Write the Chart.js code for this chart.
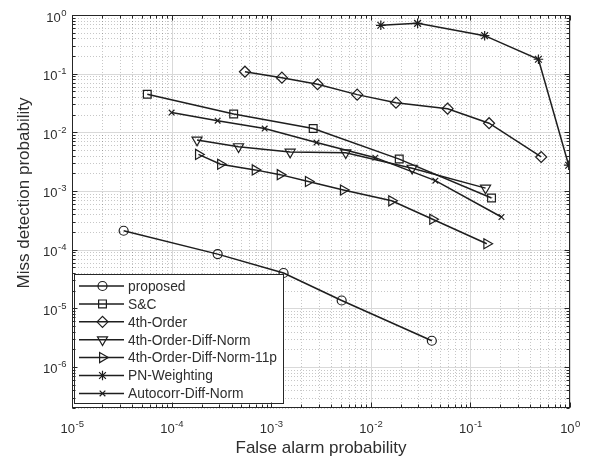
<!DOCTYPE html>
<html>
<head>
<meta charset="utf-8">
<script src="https://cdn.jsdelivr.net/npm/chart.js@4.4.1/dist/chart.umd.min.js"></script>
<style>
  html, body { margin: 0; padding: 0; background: #fff; }
  canvas { display: block; }
</style>
</head>
<body>
<canvas id="roc" width="593" height="461"></canvas>
<script>
// datos (escala log-log)
const proposedX = [3.3e-5, 2.9e-4, 1.33e-3, 5.1e-3, 0.041];
const proposedY = [2.1e-4, 8.4e-5, 4.0e-5, 1.36e-5, 2.8e-6];
const scX = [5.7e-5, 4.2e-4, 2.64e-3, 0.0193, 0.163];
const scY = [0.0446, 0.0206, 0.0116, 3.5e-3, 7.6e-4];
const fourthX = [5.45e-4, 1.28e-3, 2.92e-3, 7.3e-3, 0.0179, 0.059, 0.154, 0.514];
const fourthY = [0.108, 0.0855, 0.066, 0.0439, 0.032, 0.0253, 0.0143, 3.8e-3];
const diffNormX = [1.8e-4, 4.7e-4, 1.55e-3, 5.6e-3, 0.026, 0.142];
const diffNormY = [7.4e-3, 5.7e-3, 4.6e-3, 4.5e-3, 2.45e-3, 1.12e-3];
const diffNorm11X = [1.86e-4, 3.1e-4, 6.9e-4, 1.23e-3, 2.36e-3, 5.3e-3, 0.0162, 0.0418, 0.146];
const diffNorm11Y = [4.2e-3, 2.86e-3, 2.29e-3, 1.9e-3, 1.45e-3, 1.04e-3, 6.8e-4, 3.3e-4, 1.26e-4];
const pnX = [0.0126, 0.0295, 0.139, 0.482, 0.97];
const pnY = [0.668, 0.72, 0.444, 0.176, 2.75e-3];
const autoX = [1e-4, 2.9e-4, 8.6e-4, 2.85e-3, 0.0111, 0.0445, 0.205];
const autoY = [0.0217, 0.0158, 0.0116, 6.7e-3, 3.7e-3, 1.5e-3, 3.6e-4];

const seriesNames = ['proposed', 'S&C', '4th-Order', '4th-Order-Diff-Norm',
  '4th-Order-Diff-Norm-11p', 'PN-Weighting', 'Autocorr-Diff-Norm'];

// ticks
const xTicks = [1e-5, 1e-4, 1e-3, 1e-2, 1e-1, 1];
const xTickExp = ['-5', '-4', '-3', '-2', '-1', '0'];
const yTicks = [1e-6, 1e-5, 1e-4, 1e-3, 1e-2, 1e-1, 1];
const yTickExp = ['-6', '-5', '-4', '-3', '-2', '-1', '0'];
const xMin = 1e-5, xMax = 1, yMin = 2e-7, yMax = 1;

const lineColor = '#1e1e1e';
const axisColor = '#262626';
const textColor = '#2e2e2e';
const fontFam = '"Liberation Sans", Arial, Helvetica, sans-serif';

function pares(xs, ys) {
  let out = [];
  for (let i in xs) out.push({ x: xs[i], y: ys[i] });
  return out;
}

const estilos = [
  { pointStyle: 'circle', radius: 4.5, rotation: 0 },
  { pointStyle: 'rect', radius: 5.5, rotation: 0 },
  { pointStyle: 'rectRot', radius: 5.5, rotation: 0 },
  { pointStyle: 'triangle', radius: 5.8, rotation: 180 },
  { pointStyle: 'triangle', radius: 5.8, rotation: 90 },
  { pointStyle: 'star', radius: 4.8, rotation: 0 },
  { pointStyle: 'crossRot', radius: 4, rotation: 0 }
];
const valoresX = [proposedX, scX, fourthX, diffNormX, diffNorm11X, pnX, autoX];
const valoresY = [proposedY, scY, fourthY, diffNormY, diffNorm11Y, pnY, autoY];

let datasets = [];
for (let i = 0; i < seriesNames.length; i++) {
  datasets.push({
    label: seriesNames[i],
    data: pares(valoresX[i], valoresY[i]),
    showLine: true,
    borderColor: lineColor,
    borderWidth: 1.5,
    backgroundColor: 'rgba(0,0,0,0)',
    pointStyle: estilos[i].pointStyle,
    pointRadius: estilos[i].radius,
    pointRotation: estilos[i].rotation,
    pointBorderColor: lineColor,
    pointBackgroundColor: 'rgba(0,0,0,0)',
    pointBorderWidth: 1.2,
    tension: 0
  });
}

function menores(mayores, lo, hi) {
  let out = [];
  for (let d of mayores) {
    for (let k = 2; k <= 9; k++) {
      let v = k * d;
      if (v > lo * 0.999 && v < hi * 1.001) out.push(v);
    }
  }
  return out;
}
const xMinor = menores([1e-5, 1e-4, 1e-3, 1e-2, 1e-1], xMin, xMax);
const yMinor = menores([1e-7, 1e-6, 1e-5, 1e-4, 1e-3, 1e-2, 1e-1], yMin, yMax);

function linea(ctx, x1, y1, x2, y2) {
  ctx.beginPath();
  ctx.moveTo(x1, y1);
  ctx.lineTo(x2, y2);
  ctx.stroke();
}

const ejesMatlab = {
  id: 'ejesMatlab',
  beforeDatasetsDraw(chart) {
    const { ctx, chartArea: a, scales: { x, y } } = chart;
    ctx.save();
    ctx.lineWidth = 1;
    // grid menor punteado
    ctx.strokeStyle = 'rgba(0,0,0,0.22)';
    ctx.setLineDash([1, 2]);
    xMinor.forEach(v => {
      const px = Math.round(x.getPixelForValue(v)) + 0.5;
      linea(ctx, px, a.top, px, a.bottom);
    });
    yMinor.forEach(v => {
      const py = Math.round(y.getPixelForValue(v)) + 0.5;
      linea(ctx, a.left, py, a.right, py);
    });
    // grid mayor
    ctx.setLineDash([]);
    ctx.strokeStyle = '#d9d9d9';
    xTicks.forEach(v => {
      const px = Math.round(x.getPixelForValue(v)) + 0.5;
      linea(ctx, px, a.top, px, a.bottom);
    });
    yTicks.forEach(v => {
      const py = Math.round(y.getPixelForValue(v)) + 0.5;
      linea(ctx, a.left, py, a.right, py);
    });
    ctx.restore();
  },
  afterDatasetsDraw(chart) {
    const { ctx, chartArea: a, scales: { x, y } } = chart;
    ctx.save();

    // leyenda
    const lg = { left: 74, top: 274, right: 283, bottom: 403 };
    ctx.fillStyle = '#fff';
    ctx.fillRect(lg.left, lg.top, lg.right - lg.left, lg.bottom - lg.top);
    ctx.strokeStyle = axisColor;
    ctx.lineWidth = 1;
    ctx.strokeRect(lg.left + 0.5, lg.top + 0.5, lg.right - lg.left, lg.bottom - lg.top);
    ctx.font = '13.8px ' + fontFam;
    ctx.textBaseline = 'middle';
    ctx.textAlign = 'left';
    for (let i = 0; i < seriesNames.length; i++) {
      const ry = 286 + i * 17.9;
      ctx.strokeStyle = lineColor;
      ctx.lineWidth = 1.5;
      linea(ctx, 79, ry, 124, ry);
      ctx.lineWidth = 1.2;
      ctx.fillStyle = 'rgba(0,0,0,0)';
      Chart.helpers.drawPoint(ctx, {
        pointStyle: estilos[i].pointStyle,
        radius: estilos[i].radius,
        rotation: estilos[i].rotation,
        borderWidth: 1.2
      }, 102.5, ry);
      ctx.fillStyle = textColor;
      ctx.fillText(seriesNames[i], 128, ry + 1);
    }

    // caja y marcas hacia adentro
    ctx.strokeStyle = axisColor;
    ctx.lineWidth = 1;
    const L = Math.round(a.left) + 0.5, R = Math.round(a.right) - 0.5;
    const T = Math.round(a.top) + 0.5, B = Math.round(a.bottom) - 0.5;
    ctx.strokeRect(L, T, R - L, B - T);
    xTicks.forEach(v => {
      const px = Math.round(x.getPixelForValue(v)) + 0.5;
      linea(ctx, px, B, px, B - 5);
      linea(ctx, px, T, px, T + 5);
    });
    xMinor.forEach(v => {
      const px = Math.round(x.getPixelForValue(v)) + 0.5;
      linea(ctx, px, B, px, B - 3);
      linea(ctx, px, T, px, T + 3);
    });
    yTicks.forEach(v => {
      const py = Math.round(y.getPixelForValue(v)) + 0.5;
      linea(ctx, L, py, L + 5, py);
      linea(ctx, R, py, R - 5, py);
    });
    yMinor.forEach(v => {
      const py = Math.round(y.getPixelForValue(v)) + 0.5;
      linea(ctx, L, py, L + 3, py);
      linea(ctx, R, py, R - 3, py);
    });

    // etiquetas de ticks con exponente
    ctx.fillStyle = textColor;
    ctx.textBaseline = 'alphabetic';
    ctx.textAlign = 'left';
    const fBase = '13px ' + fontFam, fExp = '9.5px ' + fontFam;
    xTicks.forEach((v, i) => {
      const px = x.getPixelForValue(v);
      ctx.font = fBase;
      const wb = ctx.measureText('10').width;
      ctx.font = fExp;
      const we = ctx.measureText(xTickExp[i]).width;
      const x0 = px - (wb + we) / 2;
      ctx.font = fBase;
      ctx.fillText('10', x0, 433);
      ctx.font = fExp;
      ctx.fillText(xTickExp[i], x0 + wb + 0.5, 427);
    });
    yTicks.forEach((v, i) => {
      const py = y.getPixelForValue(v);
      ctx.font = fExp;
      const we = ctx.measureText(yTickExp[i]).width;
      ctx.font = fBase;
      const wb = ctx.measureText('10').width;
      const x1 = 66.5;
      ctx.fillText('10', x1 - we - 0.5 - wb, py + 6.5);
      ctx.font = fExp;
      ctx.fillText(yTickExp[i], x1 - we, py + 0.5);
    });

    // titulos de ejes
    ctx.font = '17px ' + fontFam;
    ctx.textAlign = 'center';
    ctx.fillText('False alarm probability', (a.left + a.right) / 2, 453);
    ctx.translate(29, 193);
    ctx.rotate(-Math.PI / 2);
    ctx.fillText('Miss detection probability', 0, 0);
    ctx.restore();
  }
};

var ctx = document.getElementById('roc').getContext('2d');
var grafica = new Chart(ctx, {
  type: 'scatter',
  data: { datasets: datasets },
  options: {
    responsive: false,
    animation: false,
    devicePixelRatio: 1,
    layout: { padding: { left: 72, right: 23, top: 15, bottom: 53 } },
    plugins: { legend: { display: false }, tooltip: { enabled: false } },
    scales: {
      x: { type: 'logarithmic', min: xMin, max: xMax, display: false },
      y: { type: 'logarithmic', min: yMin, max: yMax, display: false }
    }
  },
  plugins: [ejesMatlab]
});
</script>
</body>
</html>
